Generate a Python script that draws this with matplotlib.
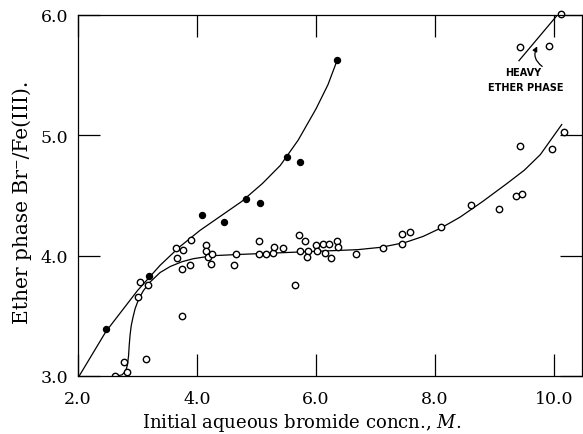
import matplotlib
matplotlib.use("Agg")
import matplotlib.pyplot as plt

plt.rcParams['font.family'] = 'DejaVu Serif'
plt.rcParams['mathtext.fontset'] = 'dejavuserif'

# solid points (upper curve)
filled_x = [2.47, 3.20, 4.08, 4.45, 4.82, 5.06, 5.52, 5.73, 6.36]
filled_y = [3.39, 3.83, 4.34, 4.28, 4.47, 4.44, 4.82, 4.78, 5.63]

# open points (lower curve)
open_x = [2.63, 2.78, 2.82, 3.15, 3.01, 3.04, 3.18, 3.75, 3.65, 3.76, 3.66, 3.74,
          3.88, 3.90, 4.15, 4.15, 4.18, 4.26, 4.24, 4.63, 4.66, 5.04, 5.04, 5.16,
          5.28, 5.30, 5.45, 5.65, 5.72, 5.73, 5.82, 5.87, 5.85, 6.00, 6.01, 6.11,
          6.15, 6.22, 6.26, 6.36, 6.37, 6.68, 7.12, 7.44, 7.58, 7.45, 8.10, 8.61,
          9.07, 9.36, 9.47, 9.43, 9.97, 10.16]
open_y = [3.00, 3.12, 3.03, 3.14, 3.66, 3.78, 3.76, 3.50, 4.06, 4.05, 3.98, 3.89,
          3.92, 4.13, 4.09, 4.04, 3.99, 4.01, 3.93, 3.92, 4.01, 4.12, 4.01, 4.01,
          4.02, 4.07, 4.06, 3.76, 4.17, 4.04, 4.12, 4.04, 3.99, 4.09, 4.04, 4.10,
          4.02, 4.10, 3.98, 4.12, 4.07, 4.01, 4.06, 4.18, 4.20, 4.10, 4.24, 4.42,
          4.39, 4.50, 4.51, 4.91, 4.89, 5.03]

# heavy ether phase points
heavy_x = [9.43, 9.91, 10.12]
heavy_y = [5.73, 5.74, 6.01]

# hand-drawn curves
upper_cx = [2.02, 2.47, 3.0, 3.38, 3.7, 4.05, 4.4, 4.75, 5.1, 5.4, 5.7, 6.0, 6.2, 6.36]
upper_cy = [3.0, 3.37, 3.71, 3.92, 4.07, 4.21, 4.33, 4.45, 4.60, 4.75, 4.96, 5.22, 5.42, 5.63]

lower_cx = [2.66, 2.74, 2.80, 2.83, 2.85, 2.86, 2.875, 2.895, 2.925, 2.96, 3.02, 3.10,
            3.21, 3.38, 3.55, 3.75, 3.94, 4.27, 4.7, 5.2, 5.7, 6.2, 6.7, 7.1, 7.5,
            7.8, 8.1, 8.42, 8.8, 9.21, 9.5, 9.77, 10.13]
lower_cy = [3.0, 3.01, 3.04, 3.09, 3.17, 3.25, 3.34, 3.42, 3.49, 3.56, 3.64, 3.71,
            3.78, 3.86, 3.91, 3.95, 3.975, 4.0, 4.01, 4.02, 4.03, 4.04, 4.05, 4.07,
            4.11, 4.16, 4.23, 4.32, 4.45, 4.60, 4.71, 4.84, 5.09]

heavy_cx = [9.41, 10.04]
heavy_cy = [5.62, 5.99]

fig = plt.figure(figsize=(5.83, 4.35), dpi=100)
ax = fig.add_axes([78 / 583, 1 - 377 / 435, 504 / 583, 361 / 435])

ax.plot(upper_cx, upper_cy, color='black', lw=0.9)
ax.plot(lower_cx, lower_cy, color='black', lw=0.9)
ax.plot(heavy_cx, heavy_cy, color='black', lw=0.9)

ax.plot(filled_x, filled_y, 'o', color='black', ms=4.3)
ax.plot(open_x, open_y, 'o', mfc='white', mec='black', mew=1.0, ms=4.6)
ax.plot(heavy_x, heavy_y, 'o', mfc='white', mec='black', mew=1.0, ms=4.6, clip_on=False)

ax.text(9.48, 5.525, 'HEAVY', family='DejaVu Sans', fontsize=7, fontweight='bold',
        ha='center', va='center')
ax.text(9.52, 5.40, 'ETHER PHASE', family='DejaVu Sans', fontsize=7, fontweight='bold',
        ha='center', va='center')
ax.annotate('', xy=(9.74, 5.76), xytext=(9.84, 5.56),
            arrowprops=dict(arrowstyle='-|>', color='black', lw=0.9,
                            mutation_scale=7, connectionstyle='arc3,rad=-0.5'))

ax.set_xlim(2.0, 10.47)
ax.set_ylim(3.0, 6.0)
ax.set_xticks([2.0, 4.0, 6.0, 8.0, 10.0])
ax.set_yticks([3.0, 4.0, 5.0, 6.0])
ax.set_xticklabels(['2.0', '4.0', '6.0', '8.0', '10.0'])
ax.set_yticklabels(['3.0', '4.0', '5.0', '6.0'])
ax.tick_params(direction='in', length=16, width=0.9, top=True, right=True,
               labelsize=12.5)
ax.tick_params(axis='x', pad=10)
ax.tick_params(axis='y', pad=7)
for s in ax.spines.values():
    s.set_linewidth(0.9)

ax.set_xlabel('Initial aqueous bromide concn., $M$.', fontsize=13)
ax.set_ylabel('Ether phase Br\u207b/Fe(III).', fontsize=14.5)
ax.xaxis.set_label_coords(0.444, -0.096)
ax.yaxis.set_label_coords(-0.092, 0.485)

fig.savefig('out.png', dpi=100)
